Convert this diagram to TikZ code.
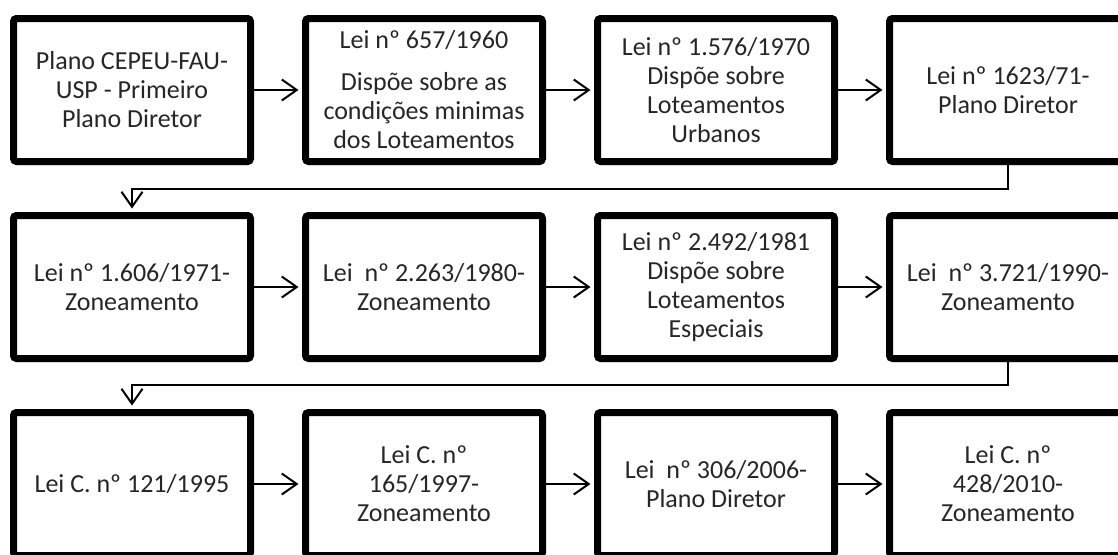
\documentclass[tikz,border=0pt]{standalone}
\usepackage{fontspec}
\setmainfont{Carlito}
\usetikzlibrary{arrows.meta,shadows}
\tikzset{
  lawbox/.style={draw=black, line width=7pt, rounded corners=3pt, fill=white,
    minimum width=237pt, minimum height=143pt, inner sep=0pt,
    align=center, text=black!85,
    font=\fontsize{26}{29}\selectfont,
    drop shadow={shadow xshift=1.5pt, shadow yshift=-3.5pt, opacity=0.22, fill=black}},
  flow/.style={draw=black, line width=2pt,
    -{Straight Barb[length=15pt,width=21pt,line width=2pt]}, shorten >=3.5pt},
}
\begin{document}
\begin{tikzpicture}[x=1pt,y=-1pt]
\useasboundingbox (0,0) rectangle (1118,554);
\clip (0,0) rectangle (1118,554);
\fill[white] (0,0) rectangle (1118,554);
% row 1
\node[lawbox] (r1c1) at (132,90) {Plano CEPEU-FAU-\\USP - Primeiro\\Plano Diretor};
\node[lawbox] (r1c2) at (424,90) {Lei nº 657/1960\\[13pt]Dispõe sobre as\\condições minimas\\dos Loteamentos};
\node[lawbox] (r1c3) at (716,90) {Lei nº 1.576/1970\\Dispõe sobre\\Loteamentos\\Urbanos};
\node[lawbox] (r1c4) at (1008,90) {Lei nº 1623/71-\\Plano Diretor};
% row 2
\node[lawbox] (r2c1) at (132,287) {Lei nº 1.606/1971-\\Zoneamento};
\node[lawbox] (r2c2) at (424,287) {Lei\ \ nº 2.263/1980-\\Zoneamento};
\node[lawbox] (r2c3) at (716,287) {Lei nº 2.492/1981\\Dispõe sobre\\Loteamentos\\Especiais};
\node[lawbox] (r2c4) at (1008,287) {Lei\ \ nº 3.721/1990-\\Zoneamento};
% row 3
\node[lawbox] (r3c1) at (132,484) {Lei C. nº 121/1995};
\node[lawbox] (r3c2) at (424,484) {Lei C. nº\\165/1997-\\Zoneamento};
\node[lawbox] (r3c3) at (716,484) {Lei\ \ nº 306/2006-\\Plano Diretor};
\node[lawbox] (r3c4) at (1008,484) {Lei C. nº\\428/2010-\\Zoneamento};
% horizontal arrows
\foreach \r in {1,2,3}{
  \draw[flow] (r\r c1.east) -- (r\r c2.west);
  \draw[flow] (r\r c2.east) -- (r\r c3.west);
  \draw[flow] (r\r c3.east) -- (r\r c4.west);
}
% row transitions
\coordinate (j1) at (1008,189);
\coordinate (j2) at (1008,385);
\draw[flow] (r1c4.south) -- (j1) -| (r2c1.north);
\draw[flow] (r2c4.south) -- (j2) -| (r3c1.north);
\end{tikzpicture}
\end{document}
